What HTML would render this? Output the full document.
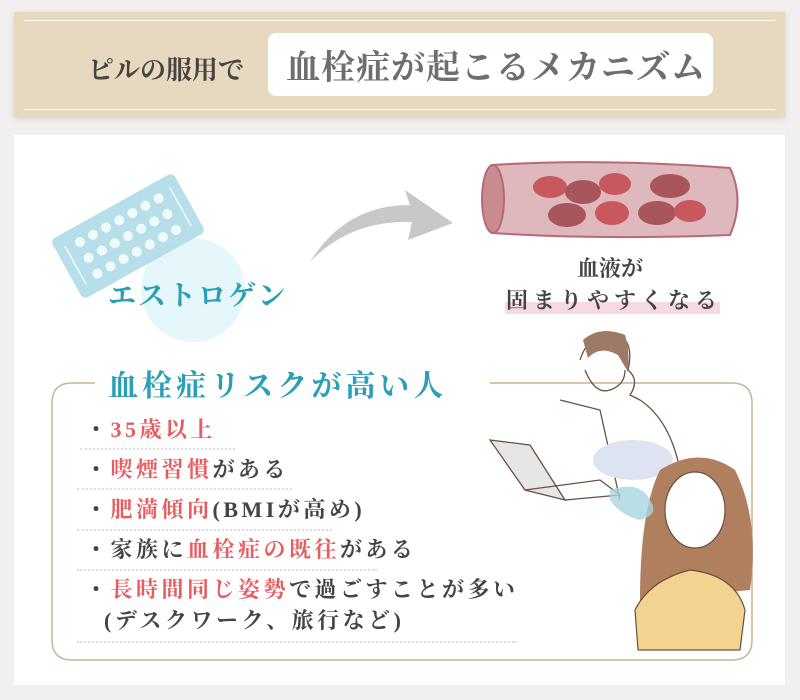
<!DOCTYPE html>
<html><head><meta charset="utf-8"><style>
*{margin:0;padding:0;box-sizing:border-box}
body{width:800px;height:700px;background:#f2f0ee;position:relative;overflow:hidden;font-family:"Liberation Serif","Noto Serif CJK SC","Noto Serif CJK JP",serif}
.abs{position:absolute}
.hdr{left:14px;top:12px;width:771px;height:105px;background:#e6d9c0;box-shadow:0 2px 6px rgba(0,0,0,.12)}
.hl{position:absolute;left:10px;right:10px;height:1px;background:#fff}
.card{left:14px;top:135px;width:771px;height:550px;background:#fff}
.li{position:absolute;left:85px;font-size:22px;color:#444;letter-spacing:3.5px;white-space:nowrap;font-weight:bold}
.r{color:#e85c5f}
.dot{position:absolute;border-top:2px dotted #ddd;height:0}
</style></head><body>
<div class="abs hdr">
 <div class="hl" style="top:8px"></div>
 <div class="hl" style="top:97px"></div>
 <div class="abs" style="left:74px;top:38px;font-size:26px;color:#4a4440;font-weight:bold">ピルの服用で</div>
 <div class="abs" style="left:254px;top:21px;width:445px;height:63px;background:#fff;border-radius:8px"></div>
 <div class="abs" style="left:272px;top:28px;font-size:34px;color:#6e6e6e;letter-spacing:1px;font-weight:bold">血栓症が起こるメカニズム</div>
</div>
<div class="abs card"></div>
<svg class="abs" style="left:0;top:0" width="800" height="700">
 <circle cx="193" cy="290" r="52" fill="#e6f7fb"/>
 <g transform="translate(128,236) rotate(-29)">
  <rect x="-70" y="-34" width="140" height="68" rx="5" fill="#aedbe8" opacity=".9"/>
  <line x1="-60" y1="-22" x2="-60" y2="22" stroke="#e0f3f8" stroke-width="2"/>
  <line x1="60" y1="-22" x2="60" y2="22" stroke="#e0f3f8" stroke-width="2"/>
  <g fill="#f0fafc">
   <circle cx="-45" cy="-18" r="5"/><circle cx="-30" cy="-18" r="5"/><circle cx="-15" cy="-18" r="5"/><circle cx="0" cy="-18" r="5"/><circle cx="15" cy="-18" r="5"/><circle cx="30" cy="-18" r="5"/><circle cx="45" cy="-18" r="5"/>
   <circle cx="-45" cy="0" r="5"/><circle cx="-30" cy="0" r="5"/><circle cx="-15" cy="0" r="5"/><circle cx="0" cy="0" r="5"/><circle cx="15" cy="0" r="5"/><circle cx="30" cy="0" r="5"/><circle cx="45" cy="0" r="5"/>
   <circle cx="-45" cy="18" r="5"/><circle cx="-30" cy="18" r="5"/><circle cx="-15" cy="18" r="5"/><circle cx="0" cy="18" r="5"/><circle cx="15" cy="18" r="5"/><circle cx="30" cy="18" r="5"/><circle cx="45" cy="18" r="5"/>
  </g>
 </g>
 <path d="M310 262 Q345 205 410 205 L405 190 L453 223 L408 240 L412 222 Q350 220 310 262Z" fill="#c8c8c8"/>
 <path d="M492 165 Q600 158 730 168 Q745 200 730 235 Q600 240 492 233 Z" fill="#dfb8bd" stroke="#b86a74" stroke-width="2"/>
 <ellipse cx="493" cy="199" rx="11" ry="34" fill="#c98b93" stroke="#b86a74" stroke-width="2"/>
 <g fill="#c9575e">
  <ellipse cx="550" cy="187" rx="17" ry="11"/><ellipse cx="583" cy="192" rx="18" ry="12" fill="#a8555d"/><ellipse cx="615" cy="184" rx="16" ry="11"/><ellipse cx="670" cy="186" rx="20" ry="12" fill="#a8555d"/>
  <ellipse cx="567" cy="215" rx="19" ry="12" fill="#a8555d"/><ellipse cx="612" cy="213" rx="17" ry="12"/><ellipse cx="657" cy="213" rx="19" ry="12" fill="#a8555d"/><ellipse cx="690" cy="211" rx="16" ry="11"/>
 </g>
 <path d="M95 383 L72 383 Q52 383 52 403 L52 640 Q52 660 72 660 L732 660 Q752 660 752 640 L752 403 Q752 383 732 383 L490 383" fill="none" stroke="#c8b496" stroke-width="1.5"/>
 <g fill="none" stroke="#6b5040" stroke-width="1.3">
  <path d="M580 360 Q590 330 615 333 Q635 340 628 370 Q640 380 630 395 L640 400 Q670 420 680 470 L700 480"/>
  <path d="M585 370 Q595 395 610 390 Q625 385 625 370"/>
  <path d="M560 400 L600 410 L620 500"/>
  <path d="M490 440 L530 445 L565 500 L525 490 Z" fill="#e6e6e6"/>
  <path d="M525 490 L600 480 L620 495 L565 500"/>
 </g>
 <path d="M583 340 Q600 325 625 335 Q630 350 628 372 L618 355 Q600 345 588 358Z" fill="#9c7a66"/>
 <ellipse cx="633" cy="460" rx="40" ry="20" fill="#dde3f0"/>
 <path d="M660 470 Q700 445 735 470 Q760 520 750 590 L640 600 Q640 510 660 470Z" fill="#b07f5e"/>
 <ellipse cx="695" cy="510" rx="30" ry="38" fill="#fff" stroke="#6b5040" stroke-width="1.2"/>
 <path d="M635 610 Q650 580 690 570 Q735 575 745 610 L740 650 L638 650Z" fill="#f2d390" stroke="#6b5040" stroke-width="1.2"/>
 <path d="M610 490 Q640 480 650 500 Q660 515 640 520 Q620 515 610 500Z" fill="#a9d6df" opacity=".8"/>
 <rect x="505" y="302" width="215" height="12" fill="#f5dbe0"/>
</svg>
<div class="abs" style="left:108px;top:274px;font-size:28px;color:#2a9fb5;letter-spacing:2px;font-weight:bold">エストロゲン</div>
<div class="abs" style="left:577px;top:252px;font-size:22px;color:#444;font-weight:bold">血液が</div>
<div class="abs" style="left:506px;top:284px;font-size:22px;color:#444;font-weight:bold;letter-spacing:5px">固まりやすくなる</div>
<div class="abs" style="left:100px;top:361px;padding:0 8px;background:#fff;font-size:30px;color:#2a9fb5;font-weight:bold;letter-spacing:4px">血栓症リスクが高い人</div>
<div class="li" style="top:413px">・<span class="r">35歳以上</span></div>
<div class="dot" style="left:80px;top:448px;width:155px"></div>
<div class="li" style="top:453px">・<span class="r">喫煙習慣</span>がある</div>
<div class="dot" style="left:77px;top:488px;width:215px"></div>
<div class="li" style="top:493px">・<span class="r">肥満傾向</span>(BMIが高め)</div>
<div class="dot" style="left:77px;top:529px;width:255px"></div>
<div class="li" style="top:533px">・家族に<span class="r">血栓症の既往</span>がある</div>
<div class="dot" style="left:77px;top:569px;width:300px"></div>
<div class="li" style="top:573px">・<span class="r">長時間同じ姿勢</span>で過ごすことが多い</div>
<div class="li" style="top:604px;left:104px">(デスクワーク、旅行など)</div>
<div class="dot" style="left:77px;top:641px;width:440px"></div>
</body></html>
